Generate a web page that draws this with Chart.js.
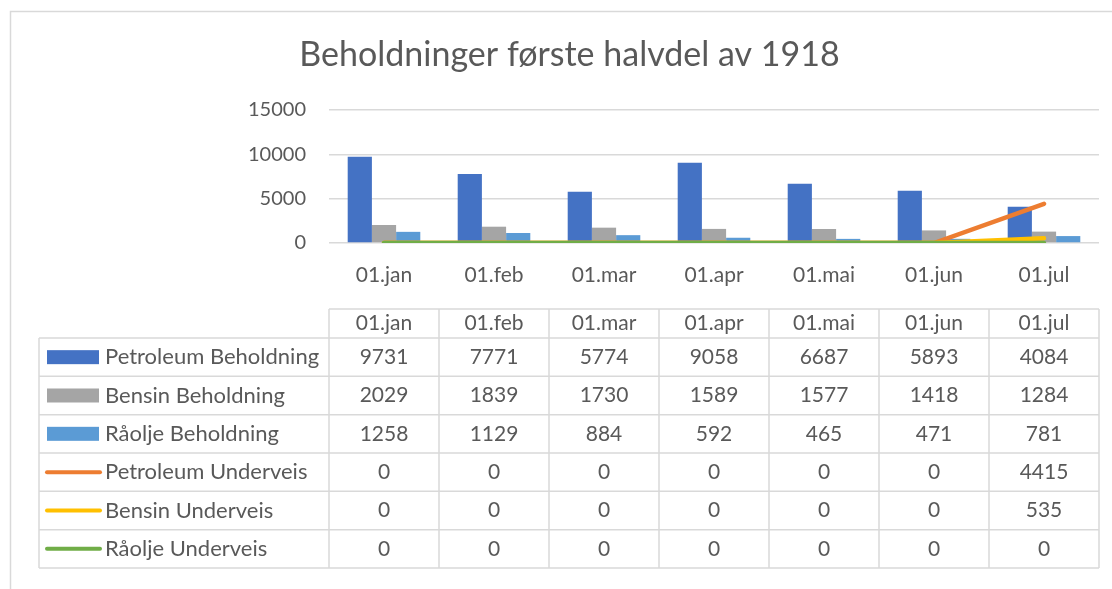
<!DOCTYPE html>
<html>
<head>
<meta charset="utf-8">
<script src="https://cdn.jsdelivr.net/npm/chart.js@4.4.1/dist/chart.umd.min.js"></script>
<style>
  html, body { margin: 0; padding: 0; background: #fff; }
  #wrap { width: 1112px; height: 589px; position: relative; }
</style>
</head>
<body>
<div id="wrap"><canvas id="stockChart" width="1112" height="589"></canvas></div>
<script>
// data
const months = ["01.jan", "01.feb", "01.mar", "01.apr", "01.mai", "01.jun", "01.jul"];
const petroleumStock = [9731, 7771, 5774, 9058, 6687, 5893, 4084];
const bensinStock = [2029, 1839, 1730, 1589, 1577, 1418, 1284];
const raoljeStock = [1258, 1129, 884, 592, 465, 471, 781];
const petroleumTransit = [0, 0, 0, 0, 0, 0, 4415];
const bensinTransit = [0, 0, 0, 0, 0, 0, 535];
const raoljeTransit = [0, 0, 0, 0, 0, 0, 0];
const yTicks = [0, 5000, 10000, 15000];

const textColor = "#595959";
const gridColor = "#d9d9d9";
const fontFamily = "Lato, 'Open Sans', sans-serif";

// frame + data table under the plot, drawn on the chart's own x scale
const dataTablePlugin = {
  id: "dataTable",
  beforeDraw(chart) {
    const ctx = chart.ctx;
    ctx.save();
    ctx.strokeStyle = gridColor;
    ctx.lineWidth = 1.5;
    ctx.strokeRect(10.5, 11.5, 1120, 600);
    ctx.restore();
  },
  afterDraw(chart) {
    const ctx = chart.ctx;
    const x = chart.scales.x;
    const area = chart.chartArea;
    const colW = (area.right - area.left) / months.length;
    const headTop = 309;
    const rowTop = 338;
    const rowH = 38.33;
    const legendLeft = 39;
    const rows = chart.data.datasets;
    const bottom = rowTop + rowH * rows.length;

    ctx.save();
    ctx.strokeStyle = gridColor;
    ctx.lineWidth = 1.5;

    // horizontal lines
    ctx.beginPath();
    ctx.moveTo(area.left, headTop);
    ctx.lineTo(area.right, headTop);
    for (let r = 0; r <= rows.length; r++) {
      const y = rowTop + r * rowH;
      ctx.moveTo(legendLeft, y);
      ctx.lineTo(area.right, y);
    }
    // vertical lines
    ctx.moveTo(legendLeft, rowTop);
    ctx.lineTo(legendLeft, bottom);
    for (let c = 0; c <= months.length; c++) {
      const xx = area.left + c * colW;
      ctx.moveTo(xx, headTop);
      ctx.lineTo(xx, bottom);
    }
    ctx.stroke();

    ctx.fillStyle = textColor;
    ctx.font = "21px " + fontFamily;
    ctx.textBaseline = "middle";
    ctx.textAlign = "center";
    months.forEach((m, i) => {
      ctx.fillText(m, x.getPixelForTick(i), (headTop + rowTop) / 2);
    });

    rows.forEach((ds, r) => {
      const cy = rowTop + r * rowH + rowH / 2;
      // legend key
      if (ds.type === "line") {
        ctx.strokeStyle = ds.borderColor;
        ctx.lineWidth = 4;
        ctx.lineCap = "round";
        ctx.beginPath();
        ctx.moveTo(47, cy);
        ctx.lineTo(100, cy);
        ctx.stroke();
      } else {
        ctx.fillStyle = ds.backgroundColor;
        ctx.fillRect(47, cy - 7, 52, 14);
      }
      ctx.fillStyle = textColor;
      ctx.textAlign = "left";
      ctx.font = "22px " + fontFamily;
      ctx.fillText(ds.label, 105, cy);
      ctx.textAlign = "center";
      ctx.font = "21px " + fontFamily;
      ds.data.forEach((v, i) => {
        ctx.fillText(String(v), x.getPixelForTick(i), cy);
      });
    });
    ctx.restore();
  },
};

const ctx = document.getElementById("stockChart").getContext("2d");
new Chart(ctx, {
  data: {
    labels: months,
    datasets: [
      {
        type: "bar",
        label: "Petroleum Beholdning",
        data: petroleumStock,
        backgroundColor: "#4472C4",
        order: 10,
      },
      {
        type: "bar",
        label: "Bensin Beholdning",
        data: bensinStock,
        backgroundColor: "#A5A5A5",
        order: 10,
      },
      {
        type: "bar",
        label: "Råolje Beholdning",
        data: raoljeStock,
        backgroundColor: "#5B9BD5",
        order: 10,
      },
      {
        type: "line",
        label: "Petroleum Underveis",
        data: petroleumTransit,
        borderColor: "#ED7D31",
        order: 3,
      },
      {
        type: "line",
        label: "Bensin Underveis",
        data: bensinTransit,
        borderColor: "#FFC000",
        order: 2,
      },
      {
        type: "line",
        label: "Råolje Underveis",
        data: raoljeTransit,
        borderColor: "#70AD47",
        order: 1,
      },
    ],
  },
  options: {
    responsive: false,
    animation: false,
    layout: { padding: { top: 0, left: 40, right: 13, bottom: 0 } },
    datasets: {
      bar: { categoryPercentage: 0.66, barPercentage: 1.0 },
      line: {
        borderWidth: 4.5,
        borderCapStyle: "round",
        borderJoinStyle: "round",
        pointRadius: 0,
        tension: 0,
      },
    },
    plugins: {
      legend: { display: false },
      tooltip: { enabled: false },
      title: {
        display: true,
        text: "Beholdninger første halvdel av 1918",
        color: textColor,
        font: { family: fontFamily, size: 34, weight: "normal", lineHeight: 1.2 },
        padding: { top: 35, bottom: 34.2 },
      },
    },
    scales: {
      x: {
        grid: { display: false },
        border: { display: false },
        ticks: {
          color: textColor,
          font: { family: fontFamily, size: 21 },
          padding: 12,
          maxRotation: 0,
        },
        afterFit(scale) {
          scale.height = 589 - 243;
        },
      },
      y: {
        min: 0,
        max: 15000,
        afterBuildTicks(scale) {
          scale.ticks = yTicks.map((v) => ({ value: v }));
        },
        grid: { color: gridColor, lineWidth: 1.5, drawTicks: false },
        border: { display: false },
        ticks: {
          color: textColor,
          font: { family: fontFamily, size: 20 },
          padding: 23,
          callback: (v) => String(v),
        },
        afterFit(scale) {
          scale.width = 289;
        },
      },
    },
  },
  plugins: [dataTablePlugin],
});
</script>
</body>
</html>
